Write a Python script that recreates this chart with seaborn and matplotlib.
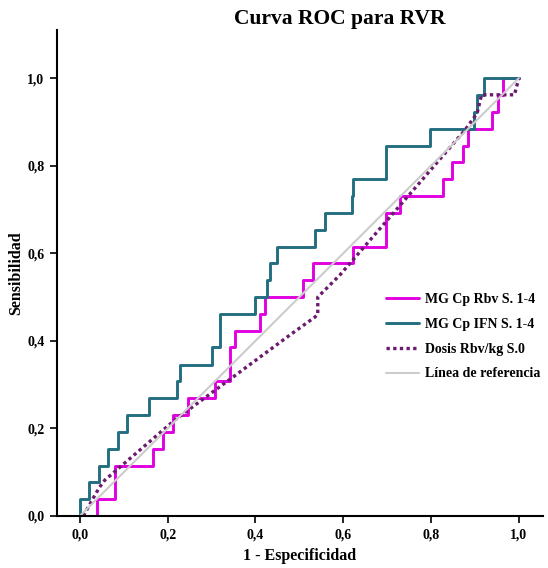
import matplotlib
matplotlib.use("Agg")
import matplotlib.pyplot as plt
import seaborn as sns
import pandas as pd
from matplotlib.ticker import FuncFormatter

# ---- data (ROC vertices) ----
rbv_fpr = [0, 0.039, 0.08, 0.166, 0.189, 0.212, 0.246, 0.307, 0.342, 0.353, 0.41, 0.421,
           0.508, 0.531, 0.622, 0.698, 0.729, 0.827, 0.847, 0.872, 0.884, 0.938, 0.952, 0.964, 1.0]
rbv_tpr = [0, 0.038, 0.115, 0.154, 0.192, 0.231, 0.269, 0.308, 0.385, 0.423, 0.462, 0.5,
           0.538, 0.577, 0.615, 0.692, 0.731, 0.769, 0.808, 0.846, 0.885, 0.923, 0.962, 1.0, 1.0]

ifn_fpr = [0, 0, 0.02, 0.043, 0.064, 0.087, 0.107, 0.158, 0.221, 0.228, 0.30, 0.319, 0.399,
           0.426, 0.433, 0.448, 0.535, 0.558, 0.62, 0.622, 0.697, 0.797, 0.897, 0.904, 0.92, 1.0]
ifn_tpr = [0, 0.038, 0.077, 0.115, 0.154, 0.192, 0.231, 0.269, 0.308, 0.346, 0.385, 0.462, 0.5,
           0.538, 0.577, 0.615, 0.654, 0.692, 0.731, 0.769, 0.846, 0.885, 0.923, 0.962, 1.0, 1.0]

dos_fpr = [0.008, 0.03, 0.045, 0.057, 0.216, 0.478, 0.535, 0.542, 0.542, 0.592, 0.779,
           0.877, 0.905, 0.915, 0.99, 1.0]
dos_tpr = [0, 0.04, 0.066, 0.082, 0.219, 0.413, 0.454, 0.46, 0.5, 0.55, 0.767,
           0.881, 0.92, 0.962, 0.962, 1.0]

ref_x = [0, 1]
ref_y = [0, 1]

labels = ["MG Cp Rbv S. 1-4", "MG Cp IFN S. 1-4", "Dosis Rbv/kg S.0", "Línea de referencia"]
title = "Curva ROC para RVR"
xlabel = "1 - Especificidad"
ylabel = "Sensibilidad"
ticks = [0.0, 0.2, 0.4, 0.6, 0.8, 1.0]

# ---- style ----
sns.set_style("ticks")
plt.rcParams["font.family"] = ["Liberation Serif", "DejaVu Serif"]
plt.rcParams["font.weight"] = "bold"
plt.rcParams["text.color"] = "black"
plt.rcParams["axes.labelcolor"] = "black"
plt.rcParams["xtick.color"] = "black"
plt.rcParams["ytick.color"] = "black"

fig = plt.figure(figsize=(5.48, 5.68), dpi=100)
ax = fig.add_axes([57 / 548, 52 / 568, 486 / 548, 486 / 568])

c_rbv = "#E000E0"
c_ifn = "#236E80"
c_dos = "#6A1B6E"
c_ref = "#CCCCCC"

sns.lineplot(x=rbv_fpr, y=rbv_tpr, ax=ax, sort=False, estimator=None, color=c_rbv,
             lw=2.1, drawstyle="steps-post", label=labels[0])
sns.lineplot(x=ifn_fpr, y=ifn_tpr, ax=ax, sort=False, estimator=None, color=c_ifn,
             lw=2.1, drawstyle="steps-post", label=labels[1])
sns.lineplot(x=dos_fpr, y=dos_tpr, ax=ax, sort=False, estimator=None, color=c_dos,
             lw=2.4, linestyle=(0, (1, 1.0)), label=labels[2])
sns.lineplot(x=ref_x, y=ref_y, ax=ax, sort=False, estimator=None, color=c_ref,
             lw=1.5, label=labels[3])

ax.set_xlim(-0.052, 1.055)
ax.set_ylim(0, 1.11)
ax.set_xticks(ticks)
ax.set_yticks(ticks)
fmt = FuncFormatter(lambda v, p: f"{v:.1f}".replace(".", ","))
ax.xaxis.set_major_formatter(fmt)
ax.yaxis.set_major_formatter(fmt)
ax.tick_params(axis="both", direction="out", length=5, width=1.2, labelsize=10, pad=4,
               colors="black")
for lab in ax.get_xticklabels() + ax.get_yticklabels():
    lab.set_fontweight("bold")
for s in ["top", "right"]:
    ax.spines[s].set_visible(False)
for s in ["left", "bottom"]:
    ax.spines[s].set_linewidth(1.5)
    ax.spines[s].set_color("black")

ax.set_xlabel(xlabel, fontsize=11.5, fontweight="bold", labelpad=5, color="black")
ax.set_ylabel(ylabel, fontsize=11.5, fontweight="bold", labelpad=2, color="black")
fig.text(340 / 548, 1 - 19 / 568, title, ha="center", va="center", fontsize=15.5,
         fontweight="bold", color="black")

leg = ax.legend(loc="upper left", bbox_to_anchor=(386 / 548, 1 - 293 / 568),
                bbox_transform=fig.transFigure, frameon=False,
                handlelength=2.4, handletextpad=0.4, labelspacing=0.85,
                borderpad=0, borderaxespad=0, prop={"weight": "bold", "size": 10})
for t in leg.get_texts():
    t.set_color("black")

fig.savefig("out.png", dpi=100, facecolor="white")
